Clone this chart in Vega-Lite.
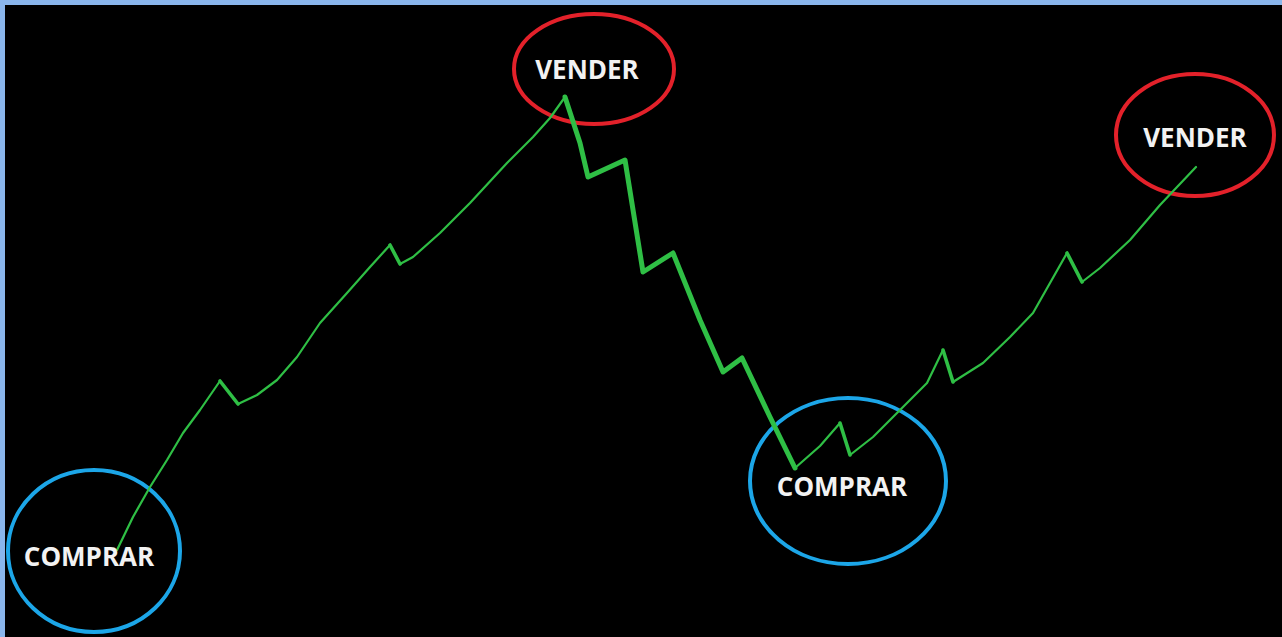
{
  "$schema": "https://vega.github.io/schema/vega-lite/v6.json",
  "width": 1282,
  "height": 637,
  "autosize": {"type": "fit", "contains": "padding"},
  "padding": {"left": 5, "top": 5, "right": 0, "bottom": 0},
  "background": "#8ab6ec",
  "config": {"view": {"fill": "#000000", "stroke": null}},
  "datasets": {
    "linea": [
      {"i": 1, "seg": 1, "tramo": "alcista", "x": 117, "y": 550},
      {"i": 2, "seg": 1, "tramo": "alcista", "x": 133, "y": 517},
      {"i": 3, "seg": 1, "tramo": "alcista", "x": 150, "y": 487},
      {"i": 4, "seg": 1, "tramo": "alcista", "x": 167, "y": 460},
      {"i": 5, "seg": 1, "tramo": "alcista", "x": 183, "y": 433},
      {"i": 6, "seg": 1, "tramo": "alcista", "x": 200, "y": 410},
      {"i": 7, "seg": 1, "tramo": "alcista", "x": 220, "y": 381},
      {"i": 7, "seg": 2, "tramo": "corrección", "x": 220, "y": 381},
      {"i": 8, "seg": 2, "tramo": "corrección", "x": 238, "y": 404},
      {"i": 8, "seg": 3, "tramo": "alcista", "x": 238, "y": 404},
      {"i": 9, "seg": 3, "tramo": "alcista", "x": 257, "y": 395},
      {"i": 10, "seg": 3, "tramo": "alcista", "x": 277, "y": 380},
      {"i": 11, "seg": 3, "tramo": "alcista", "x": 297, "y": 357},
      {"i": 12, "seg": 3, "tramo": "alcista", "x": 320, "y": 323},
      {"i": 13, "seg": 3, "tramo": "alcista", "x": 347, "y": 293},
      {"i": 14, "seg": 3, "tramo": "alcista", "x": 370, "y": 267},
      {"i": 15, "seg": 3, "tramo": "alcista", "x": 390, "y": 245},
      {"i": 15, "seg": 4, "tramo": "corrección", "x": 390, "y": 245},
      {"i": 16, "seg": 4, "tramo": "corrección", "x": 400, "y": 264},
      {"i": 16, "seg": 5, "tramo": "alcista", "x": 400, "y": 264},
      {"i": 17, "seg": 5, "tramo": "alcista", "x": 413, "y": 257},
      {"i": 18, "seg": 5, "tramo": "alcista", "x": 440, "y": 233},
      {"i": 19, "seg": 5, "tramo": "alcista", "x": 470, "y": 203},
      {"i": 20, "seg": 5, "tramo": "alcista", "x": 507, "y": 163},
      {"i": 21, "seg": 5, "tramo": "alcista", "x": 533, "y": 137},
      {"i": 22, "seg": 5, "tramo": "alcista", "x": 550, "y": 118},
      {"i": 23, "seg": 5, "tramo": "alcista", "x": 565, "y": 97},
      {"i": 23, "seg": 6, "tramo": "bajista", "x": 565, "y": 97},
      {"i": 24, "seg": 6, "tramo": "bajista", "x": 580, "y": 143},
      {"i": 25, "seg": 6, "tramo": "bajista", "x": 588, "y": 177},
      {"i": 26, "seg": 6, "tramo": "bajista", "x": 625, "y": 160},
      {"i": 27, "seg": 6, "tramo": "bajista", "x": 643, "y": 272},
      {"i": 28, "seg": 6, "tramo": "bajista", "x": 673, "y": 253},
      {"i": 29, "seg": 6, "tramo": "bajista", "x": 700, "y": 320},
      {"i": 30, "seg": 6, "tramo": "bajista", "x": 723, "y": 372},
      {"i": 31, "seg": 6, "tramo": "bajista", "x": 742, "y": 358},
      {"i": 32, "seg": 6, "tramo": "bajista", "x": 770, "y": 417},
      {"i": 33, "seg": 6, "tramo": "bajista", "x": 795, "y": 468},
      {"i": 33, "seg": 7, "tramo": "alcista", "x": 795, "y": 468},
      {"i": 34, "seg": 7, "tramo": "alcista", "x": 820, "y": 446},
      {"i": 35, "seg": 7, "tramo": "alcista", "x": 840, "y": 423},
      {"i": 35, "seg": 8, "tramo": "corrección", "x": 840, "y": 423},
      {"i": 36, "seg": 8, "tramo": "corrección", "x": 850, "y": 455},
      {"i": 36, "seg": 9, "tramo": "alcista", "x": 850, "y": 455},
      {"i": 37, "seg": 9, "tramo": "alcista", "x": 873, "y": 437},
      {"i": 38, "seg": 9, "tramo": "alcista", "x": 900, "y": 410},
      {"i": 39, "seg": 9, "tramo": "alcista", "x": 927, "y": 383},
      {"i": 40, "seg": 9, "tramo": "alcista", "x": 943, "y": 350},
      {"i": 40, "seg": 10, "tramo": "corrección", "x": 943, "y": 350},
      {"i": 41, "seg": 10, "tramo": "corrección", "x": 953, "y": 382},
      {"i": 41, "seg": 11, "tramo": "alcista", "x": 953, "y": 382},
      {"i": 42, "seg": 11, "tramo": "alcista", "x": 983, "y": 363},
      {"i": 43, "seg": 11, "tramo": "alcista", "x": 1010, "y": 337},
      {"i": 44, "seg": 11, "tramo": "alcista", "x": 1033, "y": 313},
      {"i": 45, "seg": 11, "tramo": "alcista", "x": 1067, "y": 253},
      {"i": 45, "seg": 12, "tramo": "corrección", "x": 1067, "y": 253},
      {"i": 46, "seg": 12, "tramo": "corrección", "x": 1082, "y": 282},
      {"i": 46, "seg": 13, "tramo": "alcista", "x": 1082, "y": 282},
      {"i": 47, "seg": 13, "tramo": "alcista", "x": 1100, "y": 268},
      {"i": 48, "seg": 13, "tramo": "alcista", "x": 1130, "y": 240},
      {"i": 49, "seg": 13, "tramo": "alcista", "x": 1160, "y": 205},
      {"i": 50, "seg": 13, "tramo": "alcista", "x": 1196, "y": 167}
    ],
    "senales": [
      {"id": 1, "senal": "COMPRAR", "x": 94, "y": 551, "lx": 89, "ly": 558},
      {"id": 2, "senal": "VENDER", "x": 594, "y": 69, "lx": 587, "ly": 71},
      {"id": 3, "senal": "COMPRAR", "x": 848, "y": 481, "lx": 842, "ly": 488},
      {"id": 4, "senal": "VENDER", "x": 1195, "y": 135, "lx": 1195, "ly": 139}
    ]
  },
  "encoding": {
    "x": {"field": "x", "type": "quantitative", "axis": null, "scale": {"domain": [5, 1282], "nice": false, "zero": false}},
    "y": {"field": "y", "type": "quantitative", "axis": null, "scale": {"domain": [5, 637], "nice": false, "zero": false, "reverse": true}}
  },
  "layer": [
    {
      "data": {"name": "senales"},
      "transform": [{"filter": "datum.id == 1"}],
      "mark": {"type": "point", "clip": true, "shape": "M-86,0A86,81 0 1,0 86,0A86,81 0 1,0 -86,0Z", "size": 4, "filled": false, "fill": null, "stroke": "#1ca6e8", "strokeWidth": 4, "opacity": 1}
    },
    {
      "data": {"name": "senales"},
      "transform": [{"filter": "datum.id == 2"}],
      "mark": {"type": "point", "clip": true, "shape": "M-80,0A80,55 0 1,0 80,0A80,55 0 1,0 -80,0Z", "size": 4, "filled": false, "fill": null, "stroke": "#e3212a", "strokeWidth": 4, "opacity": 1}
    },
    {
      "data": {"name": "senales"},
      "transform": [{"filter": "datum.id == 3"}],
      "mark": {"type": "point", "clip": true, "shape": "M-98,0A98,83 0 1,0 98,0A98,83 0 1,0 -98,0Z", "size": 4, "filled": false, "fill": null, "stroke": "#1ca6e8", "strokeWidth": 4, "opacity": 1}
    },
    {
      "data": {"name": "senales"},
      "transform": [{"filter": "datum.id == 4"}],
      "mark": {"type": "point", "clip": true, "shape": "M-79,0A79,61 0 1,0 79,0A79,61 0 1,0 -79,0Z", "size": 4, "filled": false, "fill": null, "stroke": "#e3212a", "strokeWidth": 4, "opacity": 1}
    },
    {
      "data": {"name": "linea"},
      "mark": {"type": "line", "clip": true, "color": "#2fbf45", "strokeCap": "round", "strokeJoin": "round"},
      "encoding": {
        "detail": {"field": "seg", "type": "nominal"},
        "order": {"field": "i", "type": "quantitative"},
        "strokeWidth": {"field": "tramo", "type": "ordinal", "legend": null, "scale": {"domain": ["alcista", "corrección", "bajista"], "range": [2.2, 5, 7]}}
      }
    },
    {
      "data": {"name": "senales"},
      "mark": {"type": "text", "clip": true, "font": "Open Sans", "fontWeight": "bold", "fontSize": 26, "color": "#f2f2f2", "align": "center", "baseline": "middle"},
      "encoding": {
        "x": {"field": "lx", "type": "quantitative"},
        "y": {"field": "ly", "type": "quantitative"},
        "text": {"field": "senal", "type": "nominal"}
      }
    }
  ]
}
